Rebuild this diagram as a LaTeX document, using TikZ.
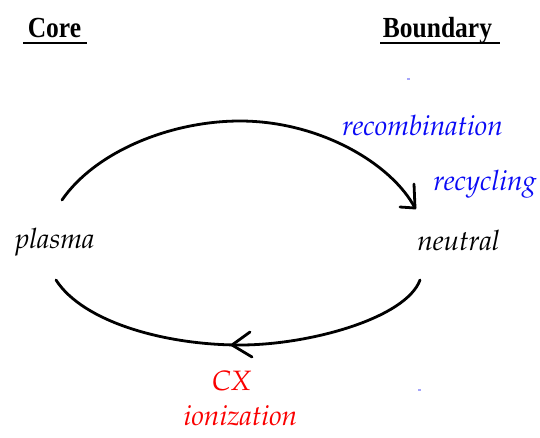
\documentclass[tikz,border=0pt]{standalone}
\usepackage[T1]{fontenc}
\usepackage{fontspec}
\usetikzlibrary{calc}
\setmainfont{Liberation Serif}
% Palatino italic (Type 1, via NFSS) for the process labels
\newcommand{\palit}{\fontencoding{T1}\fontfamily{ppl}\fontshape{it}\fontsize{28}{32}\selectfont}
\newcommand{\headfont}{\bfseries\fontsize{26}{30}\selectfont}
\newcommand{\headtext}[1]{\scalebox{0.98}[1.12]{#1}}
\definecolor{labelblue}{RGB}{10,10,245}
\definecolor{labelred}{RGB}{250,0,0}
\definecolor{specks}{RGB}{165,165,250}
\tikzset{
  head/.style={anchor=base,inner sep=0pt,font=\headfont},
  proc/.style={anchor=base,inner sep=0pt,font=\palit},
  flow/.style={line width=2.8pt,line cap=round,line join=round},
  rule/.style={line width=2.4pt}
}
\begin{document}
\begin{tikzpicture}[x=1pt,y=-1pt]
\useasboundingbox (0,0) rectangle (540,437);

% column headings
\node[head] (core) at (54.5,37) {\headtext{Core}};
\node[head] (bnd) at (437.5,37) {\headtext{Boundary}};
\draw[rule] (23,43) -- (87,43);
\draw[rule] (380,43) -- (500,43);

% species
\node[proc] (plasma) at (55,248) {plasma};
\node[proc] (neutral) at (458.5,250) {neutral};

% process labels
\node[proc,text=labelblue] (recomb) at (422.5,135) {recombination};
\node[proc,text=labelblue] (recyc) at (485,190) {recycling};
\node[proc,text=labelred] (cx) at (231.5,390) {CX};
\node[proc,text=labelred] (ioniz) at (240.5,425) {ionization};

% end points of the two arcs
\coordinate (upS) at (62,200);
\coordinate (upT) at (240,121);
\coordinate (upE) at (415,208);
\coordinate (loS) at (420,280);
\coordinate (loB) at (240,345);
\coordinate (loE) at (56,280);
\coordinate (loTip) at (232,345);

% plasma -> neutral
\draw[flow] (upS) .. controls (95,152) and (170,121) .. (upT)
                 .. controls (320,121) and (392,164) .. (upE);
\draw[flow] ($(upE)+(-1,-24)$) -- (upE) -- ($(upE)+(-15,-1)$);

% neutral -> plasma
\draw[flow] (loS) .. controls (406,318) and (310,345) .. (loB)
                 .. controls (165,345) and (83,322) .. (loE);
\draw[flow] ($(loTip)+(18,-13)$) -- (loTip) -- ($(loTip)+(20,12)$);

% stray specks
\fill[specks] (407,78) rectangle (410,80);
\fill[specks] (418,389) rectangle (421,391);
\end{tikzpicture}
\end{document}
